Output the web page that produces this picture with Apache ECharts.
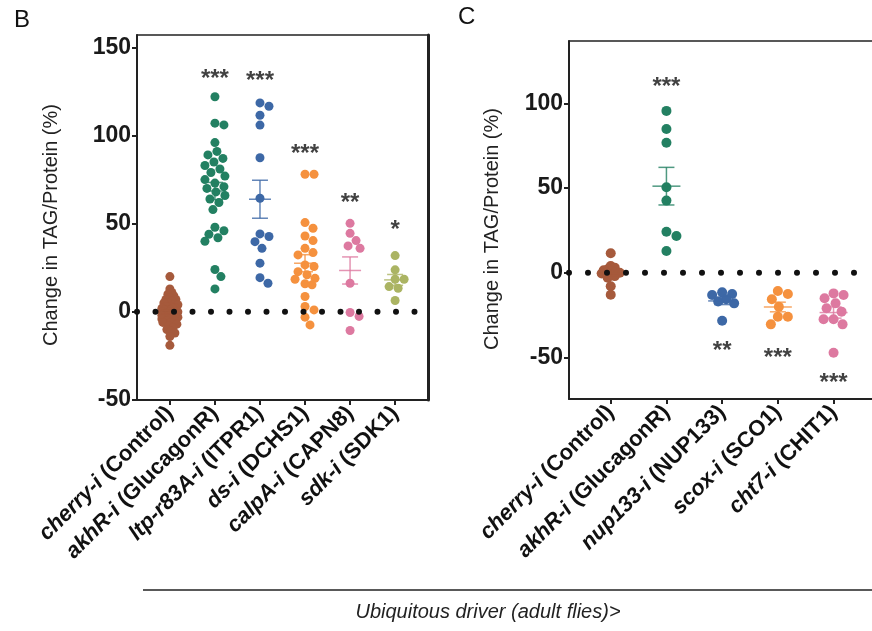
<!DOCTYPE html>
<html>
<head>
<meta charset="utf-8">
<script src="https://cdn.jsdelivr.net/npm/echarts@6/dist/echarts.min.js"></script>
<style>
  html, body { margin: 0; padding: 0; background: #fff; }
  #chart { width: 872px; height: 631px; }
</style>
</head>
<body>
<div id="chart"></div>
<script>
// panel B data
var leftGenes = ['cherry-i', 'akhR-i', 'ltp-r83A-i', 'ds-i', 'calpA-i', 'sdk-i']
var leftTargets = ['(Control)', '(GlucagonR)', '(ITPR1)', '(DCHS1)', '(CAPN8)', '(SDK1)']
var leftColors = ['#A65A3C', '#238062', '#3D68A6', '#F5913E', '#DD79A0', '#ABB463']
var leftControl = [20, 13, 11, 10, 9, 8, 7, 7, 6, 5, 5, 4, 4, 3, 3, 2, 2, 2, 1, 1, 1, 0, 0, 0, 0,
    -1, -1, -1, -2, -2, -2, -3, -3, -4, -4, -5, -5, -6, -6, -7, -8, -9, -10, -11, -12, -14, -19]
var leftAkhR = [122, 107, 106, 96, 91, 89, 87, 85, 83, 81, 79, 77, 75, 73, 71, 70, 68, 66, 64, 62,
    58, 48, 46, 44, 42, 40, 24, 20, 13]
var leftItpr = [118.5, 116.6, 111.5, 105.9, 87.4, 64.4, 44.2, 42.7, 39.8, 36, 27.6, 19.4, 16.2]
var leftDs = [78, 78, 50.6, 47.4, 43, 40.4, 36, 33.6, 32.3, 26.6, 25.7, 22.8, 21, 19, 18.5, 15.9,
    15.3, 8.7, 3, 1.1, -3, -7.4]
var leftCalpA = [50.2, 44.5, 40.4, 37.4, 36, 16.2, -0.4, -2.6, -10.6]
var leftSdk = [31.9, 23.8, 18.5, 18.5, 14.3, 13.4, 6.4]
var leftStars = ['', '***', '***', '***', '**', '*']
var leftStarY = [0, 134.8, 133.6, 92, 64.3, 49]

// panel C data
var rightGenes = ['cherry-i', 'akhR-i', 'nup133-i', 'scox-i', 'cht7-i']
var rightTargets = ['(Control)', '(GlucagonR)', '(NUP133)', '(SCO1)', '(CHIT1)']
var rightColors = ['#A65A3C', '#238062', '#3D68A6', '#F5913E', '#DD79A0']
var rightControl = [11.5, 4, 3, 2, 1.5, 1, 0.5, 0, 0, -0.5, -1, -2, -3, -8, -13]
var rightAkhR = [95.6, 84.9, 76.8, 50.5, 42.6, 24.2, 21.7, 12.8]
var rightNup = [-12.6, -11.6, -13.2, -15.7, -17, -18.1, -28.4]
var rightScox = [-10.8, -12.6, -15.7, -20.1, -26, -26, -30.5]
var rightCht = [-13.2, -12.2, -15.1, -18, -21, -23, -27.5, -27.5, -30.5, -47.3]
var rightStars = ['', '***', '**', '***', '***']
var rightStarY = [0, 112.4, -43.3, -47.8, -62.2]

var yTicksLeft = [-50, 0, 50, 100, 150]
var yTicksRight = [-50, 0, 50, 100]

var leftGroups = [leftControl, leftAkhR, leftItpr, leftDs, leftCalpA, leftSdk]
var rightGroups = [rightControl, rightAkhR, rightNup, rightScox, rightCht]

var FONT = '"Liberation Sans", Arial, sans-serif'

// grid boxes and axis extents
var gridL = {left: 137, top: 35, width: 291, height: 365}
var gridR = {left: 569, top: 41, width: 303, height: 358}
var xL = [-0.73, 5.73], yL = [-50, 157]
var xR = [-0.749, 4.69], yR = [-74.6, 136.9]

function mean(a) {
    return a.reduce(function (s, v) { return s + v }, 0) / a.length
}
function sem(a) {
    var m = mean(a)
    var ss = a.reduce(function (s, v) { return s + (v - m) * (v - m) }, 0)
    return Math.sqrt(ss / (a.length - 1)) / Math.sqrt(a.length)
}

// simple beeswarm: horizontal pixel offsets so dots do not pile up
function swarm(values, pxPerY, minDist, maxOff) {
    var order = values.map(function (v, i) { return i })
    order.sort(function (a, b) { return values[b] - values[a] })
    var placed = []
    var offs = []
    order.forEach(function (i) {
        var y = values[i] * pxPerY
        var best = 0, bestD = -1
        for (var s = 0; s <= maxOff * 2; s++) {
            var o = s % 2 ? (s + 1) / 2 : -s / 2
            var d = Infinity
            placed.forEach(function (p) {
                var dd = Math.sqrt((p.x - o) * (p.x - o) + (p.y - y) * (p.y - y))
                if (dd < d) d = dd
            })
            if (d >= minDist) { best = o; bestD = d; break }
            if (d > bestD) { bestD = d; best = o }
        }
        placed.push({x: best, y: y})
        offs[i] = best
    })
    return offs
}

function pointsFor(groups, grid, xr, yr, size, ctrlDist, ctrlOff, dist, off) {
    var pxX = grid.width / (xr[1] - xr[0])
    var pxY = grid.height / (yr[1] - yr[0])
    return groups.map(function (vals, gi) {
        var offs = gi === 0 ? swarm(vals, pxY, ctrlDist, ctrlOff) : swarm(vals, pxY, dist, off)
        return vals.map(function (v, k) { return [gi + offs[k] / pxX, v] })
    })
}

var ptsL = pointsFor(leftGroups, gridL, xL, yL, 9, 4, 8, 9, 10)
var ptsR = pointsFor(rightGroups, gridR, xR, yR, 10, 4, 9, 10, 12)

function catLabel(genes, targets) {
    return function (v) {
        var i = Math.round(v)
        return '{i|' + genes[i] + '}{n| ' + targets[i] + '}'
    }
}

var richLab = {
    i: {fontFamily: FONT, fontSize: 22, fontWeight: 'bold', fontStyle: 'italic', color: '#111'},
    n: {fontFamily: FONT, fontSize: 22, fontWeight: 'bold', color: '#111'}
}

function bottomAxis(gi, xr, n) {
    var ticks = []
    for (var i = 0; i < n; i++) ticks.push(i)
    return {
        type: 'value', gridIndex: gi, min: xr[0], max: xr[1], position: 'bottom',
        axisLine: {show: true, onZero: false, lineStyle: {color: '#222', width: 2}},
        axisTick: {show: true, length: 5, customValues: ticks, lineStyle: {color: '#222', width: 2}},
        axisLabel: {
            show: true, rotate: 45, margin: 10, customValues: ticks,
            formatter: gi === 0 ? catLabel(leftGenes, leftTargets) : catLabel(rightGenes, rightTargets),
            rich: richLab
        },
        splitLine: {show: false}
    }
}

function topAxis(gi, xr) {
    return {
        type: 'value', gridIndex: gi, min: xr[0], max: xr[1], position: 'top',
        axisLine: {show: true, onZero: false, lineStyle: {color: '#222', width: 1.5}},
        axisTick: {show: false}, axisLabel: {show: false}, splitLine: {show: false}
    }
}

function leftAxis(gi, yr, ticks) {
    return {
        type: 'value', gridIndex: gi, min: yr[0], max: yr[1], position: 'left',
        axisLine: {show: true, onZero: false, lineStyle: {color: '#222', width: 2}},
        axisTick: {show: true, length: 5, customValues: ticks, lineStyle: {color: '#222', width: 2}},
        axisLabel: {
            show: true, customValues: ticks, margin: 6,
            fontFamily: FONT, fontSize: 23, fontWeight: 'bold', color: '#1a1a1a'
        },
        splitLine: {show: false}
    }
}

function scatterSeries(pts, colors, xi, yi, size) {
    return pts.map(function (p, gi) {
        return {
            type: 'scatter', xAxisIndex: xi, yAxisIndex: yi, data: p,
            symbolSize: size, itemStyle: {color: colors[gi], opacity: 1}, z: 3, silent: true
        }
    })
}

function zeroLine(xi, yi, xr, gap) {
    return {
        type: 'line', xAxisIndex: xi, yAxisIndex: yi, data: [[xr[0], 0], [xr[1], 0]],
        symbol: 'none', z: 6, silent: true,
        lineStyle: {color: '#111', width: 6, type: [0, gap], cap: 'round'}
    }
}

function errorSeries(groups, colors, xi, yi, halfMean, halfCap, skipFirst) {
    var data = groups.map(function (g, i) { return [i, mean(g), sem(g)] })
    return {
        type: 'custom', xAxisIndex: xi, yAxisIndex: yi, data: data, z: 5, silent: true,
        encode: {x: 0, y: 1},
        renderItem: function (params, api) {
            var i = api.value(0), m = api.value(1), s = api.value(2)
            var c = api.coord([i, m])
            var t = api.coord([i, m + s])
            var b = api.coord([i, m - s])
            var style = {stroke: colors[params.dataIndex], lineWidth: 1.5, opacity: 0.8}
            return {
                type: 'group',
                children: [
                    {type: 'line', shape: {x1: c[0] - halfMean, y1: c[1], x2: c[0] + halfMean, y2: c[1]}, style: style},
                    {type: 'line', shape: {x1: c[0], y1: t[1], x2: c[0], y2: b[1]}, style: style},
                    {type: 'line', shape: {x1: c[0] - halfCap, y1: t[1], x2: c[0] + halfCap, y2: t[1]}, style: style},
                    {type: 'line', shape: {x1: c[0] - halfCap, y1: b[1], x2: c[0] + halfCap, y2: b[1]}, style: style}
                ]
            }
        }
    }
}

function starSeries(stars, ys, xi, yi) {
    var data = []
    stars.forEach(function (s, i) { if (s) data.push({value: [i, ys[i]], name: s}) })
    return {
        type: 'scatter', xAxisIndex: xi, yAxisIndex: yi, data: data, symbolSize: 1,
        itemStyle: {color: 'rgba(0,0,0,0)'}, silent: true, z: 7,
        label: {
            show: true, position: 'inside', offset: [0, 5],
            formatter: function (p) { return p.name },
            fontFamily: FONT, fontSize: 24, fontWeight: 'bold', color: '#111'
        }
    }
}

var myChart = echarts.init(document.getElementById('chart'), null, {renderer: 'canvas'})

var option = {
    animation: false,
    backgroundColor: '#fff',
    grid: [
        {left: gridL.left, top: gridL.top, width: gridL.width, height: gridL.height, containLabel: false},
        {left: gridR.left, top: gridR.top, width: gridR.width, height: gridR.height, containLabel: false}
    ],
    xAxis: [
        bottomAxis(0, xL, 6),
        topAxis(0, xL),
        bottomAxis(1, xR, 5),
        topAxis(1, xR)
    ],
    yAxis: [
        leftAxis(0, yL, yTicksLeft),
        {
            type: 'value', gridIndex: 0, min: yL[0], max: yL[1], position: 'right',
            axisLine: {show: true, onZero: false, lineStyle: {color: '#222', width: 3}},
            axisTick: {show: false}, axisLabel: {show: false}, splitLine: {show: false}
        },
        leftAxis(1, yR, yTicksRight)
    ],
    series: []
        .concat(scatterSeries(ptsL, leftColors, 0, 0, 9))
        .concat([errorSeries(leftGroups, leftColors, 0, 0, 11, 8)])
        .concat([zeroLine(0, 0, xL, 18.5)])
        .concat([starSeries(leftStars, leftStarY, 0, 0)])
        .concat(scatterSeries(ptsR, rightColors, 2, 2, 10))
        .concat([errorSeries(rightGroups, rightColors, 2, 2, 14, 8)])
        .concat([zeroLine(2, 2, xR, 19)])
        .concat([starSeries(rightStars, rightStarY, 2, 2)]),
    graphic: [
        {type: 'text', left: 14, top: 8, style: {text: 'B', fontFamily: FONT, fontSize: 24, fill: '#111'}},
        {type: 'text', left: 458, top: 5, style: {text: 'C', fontFamily: FONT, fontSize: 24, fill: '#111'}},
        {
            type: 'text', x: 51, y: 225, rotation: Math.PI / 2,
            style: {text: 'Change in TAG/Protein (%)', fontFamily: FONT, fontSize: 20, fill: '#222',
                align: 'center', verticalAlign: 'middle'}
        },
        {
            type: 'text', x: 492, y: 229, rotation: Math.PI / 2,
            style: {text: 'Change in TAG/Protein (%)', fontFamily: FONT, fontSize: 20, fill: '#222',
                align: 'center', verticalAlign: 'middle'}
        },
        {type: 'line', shape: {x1: 143, y1: 590, x2: 872, y2: 590}, style: {stroke: '#222', lineWidth: 1.5}},
        {
            type: 'text', x: 488, y: 612,
            style: {text: 'Ubiquitous driver (adult flies)>', fontFamily: FONT, fontSize: 20,
                fontStyle: 'italic', fill: '#222', align: 'center', verticalAlign: 'middle'}
        }
    ]
}

myChart.setOption(option)
</script>
</body>
</html>
